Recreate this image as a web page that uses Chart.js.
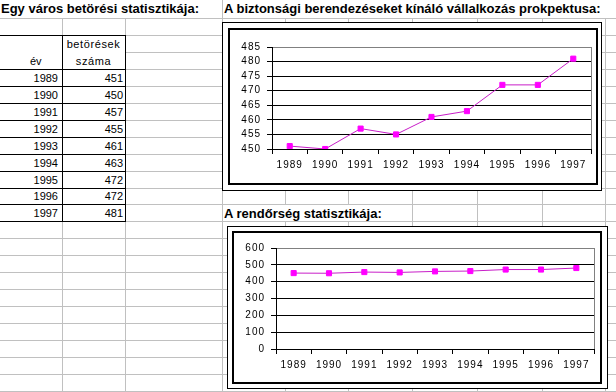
<!DOCTYPE html>
<html>
<head>
<meta charset="utf-8">
<script src="https://cdn.jsdelivr.net/npm/chart.js@4.4.0/dist/chart.umd.min.js"></script>
<style>
    html, body { margin: 0; padding: 0; background: #fff; }
    #sheet { position: relative; width: 616px; height: 392px; overflow: hidden; font-family: Arial, "Liberation Sans", sans-serif; color: #000; }
    .gl { position: absolute; background: #c0c0c0; }
    .bl { position: absolute; background: #000; }
    .title { position: absolute; font-weight: bold; font-size: 13px; white-space: nowrap; background: #fff; line-height: 17px; padding-left: 1px; }
    .cell { position: absolute; font-size: 11px; white-space: nowrap; background: #fff; }
    .box { position: absolute; box-sizing: border-box; border: 1px solid #000; background: #fff; }
    .inner { position: absolute; box-sizing: border-box; border: 2px solid #000; background: #fff; }
    canvas { position: absolute; }
</style>
</head>
<body>
<div id="sheet">
    <div class="box" style="left:222px;top:22px;width:380px;height:169px;"></div>
    <div class="inner" style="left:228px;top:28px;width:370px;height:157px;"></div>
    <canvas id="chartProspektus" width="366" height="153" style="left:230px;top:30px;"></canvas>

    <div class="box" style="left:227px;top:226px;width:381px;height:163px;"></div>
    <div class="inner" style="left:232px;top:231px;width:370px;height:153px;"></div>
    <canvas id="chartRendorseg" width="366" height="149" style="left:234px;top:233px;"></canvas>
</div>

<script>
//------------Data-----------------

const years = ['1989', '1990', '1991', '1992', '1993', '1994', '1995', '1996', '1997'];
const burglaries = [451, 450, 457, 455, 461, 463, 472, 472, 481];

const headerYear = 'év';
const headerCount = ['betörések', 'száma'];

const titleTable = 'Egy város betörési statisztikája:';
const titleProspektus = 'A biztonsági berendezéseket kínáló vállalkozás prokpektusa:';
const titleRendorseg = 'A rendőrség statisztikája:';

// y axis: min, max, step
const prospektusAxis = [450, 485, 5];
const rendorsegAxis = [0, 600, 100];

//------------Sheet grid-----------------

const sheet = document.getElementById('sheet');
const firstChart = sheet.firstElementChild;

const colX = [62, 125, 222, 285, 348, 412, 477, 542, 605];
const rowY = [];
for (let k = 1; k <= 23; k++) rowY[k] = Math.round(1.3 + 16.93 * k);

function addDiv(cls, l, t, w, h, text) {
    const d = document.createElement('div');
    d.className = cls;
    d.style.left = l + 'px';
    d.style.top = t + 'px';
    if (w !== null) d.style.width = w + 'px';
    if (h !== null) d.style.height = h + 'px';
    if (text !== undefined) d.textContent = text;
    sheet.insertBefore(d, firstChart);
    return d;
}

colX.forEach(x => addDiv('gl', x, 0, 1, 392));
for (let k = 1; k <= 23; k++) addDiv('gl', 0, rowY[k], 616, 1);

// titles (white background hides the grid under overflowing text)
addDiv('title', 0, 0, 200, 18, titleTable);
addDiv('title', 223, 0, 393, 18, titleProspektus);
addDiv('title', 223, rowY[12] + 1, 170, 16, titleRendorseg);

//------------Table-----------------

const top0 = rowY[2];
const bottom0 = rowY[13];

// white cells
addDiv('cell', 0, top0, 125, bottom0 - top0);

// header
let h1 = addDiv('cell', 62, rowY[2] + 1, 63, rowY[3] - rowY[2] - 1, headerCount[0]);
let h2 = addDiv('cell', 62, rowY[3] + 1, 63, rowY[4] - rowY[3] - 1, headerCount[1]);
let h3 = addDiv('cell', 0, rowY[3] + 1, 62, rowY[4] - rowY[3] - 1, headerYear);
[h1, h2].forEach(h => { h.style.textAlign = 'center'; h.style.letterSpacing = '0.6px'; h.style.lineHeight = h.style.height; });
h3.style.paddingLeft = '30px';
h3.style.width = '32px';
h3.style.lineHeight = h3.style.height;

years.forEach((y, i) => {
    const t = rowY[4 + i] + 1;
    const h = rowY[5 + i] - rowY[4 + i] - 1;
    const c1 = addDiv('cell', 0, t, 58, h, y);
    const c2 = addDiv('cell', 63, t, 60, h, burglaries[i]);
    [c1, c2].forEach(c => { c.style.textAlign = 'right'; c.style.lineHeight = h + 'px'; });
});

// black borders
addDiv('bl', 0, rowY[2], 126, 1);
for (let k = 4; k <= 13; k++) addDiv('bl', 0, rowY[k], 126, 1);
addDiv('bl', 62, top0, 1, bottom0 - top0 + 1);
addDiv('bl', 125, top0, 1, bottom0 - top0 + 1);

//------------Charts-----------------

Chart.defaults.font.family = 'Arial, "Liberation Sans", sans-serif';
Chart.defaults.font.size = 10;
Chart.defaults.color = '#000';

const letterSpacing = {
    id: 'letterSpacing',
    beforeDraw(chart) { chart.ctx.letterSpacing = '1px'; }
};

function makeChart(id, axis, padTop, padRight, xHeight) {
    const ctx = document.getElementById(id).getContext('2d');
    new Chart(ctx, {
        type: 'line',
        data: {
            labels: years,
            datasets: [{
                data: burglaries,
                borderColor: '#c81ec8',
                borderWidth: 1,
                tension: 0,
                pointStyle: 'rect',
                pointRadius: 3.6,
                pointBackgroundColor: '#ff00ff',
                pointBorderColor: '#ff00ff',
                pointBorderWidth: 1
            }]
        },
        plugins: [letterSpacing],
        options: {
            responsive: false,
            animation: false,
            events: [],
            layout: { padding: { top: padTop, right: padRight, left: 0, bottom: 0 } },
            plugins: {
                legend: { display: false },
                tooltip: { enabled: false }
            },
            scales: {
                x: {
                    offset: true,
                    grid: {
                        offset: true,
                        color: c => c.type === 'tick' ? 'rgba(0,0,0,0)' : '#808080',
                        tickColor: '#000',
                        tickLength: 5
                    },
                    border: { color: '#000', width: 1 },
                    ticks: { padding: 5, maxRotation: 0, autoSkip: false },
                    afterFit: s => { s.height = xHeight; }
                },
                y: {
                    min: axis[0],
                    max: axis[1],
                    ticks: { stepSize: axis[2], padding: 6, autoSkip: false },
                    grid: {
                        color: c => (c.tick && c.tick.value === axis[1]) ? '#808080' : '#000',
                        tickColor: '#000',
                        tickLength: 5
                    },
                    border: { color: '#000', width: 1 },
                    afterFit: s => { s.width = 42; }
                }
            }
        }
    });
}

makeChart('chartProspektus', prospektusAxis, 17, 5, 34);
makeChart('chartRendorseg', rendorsegAxis, 15, 6, 33);
</script>
</body>
</html>
